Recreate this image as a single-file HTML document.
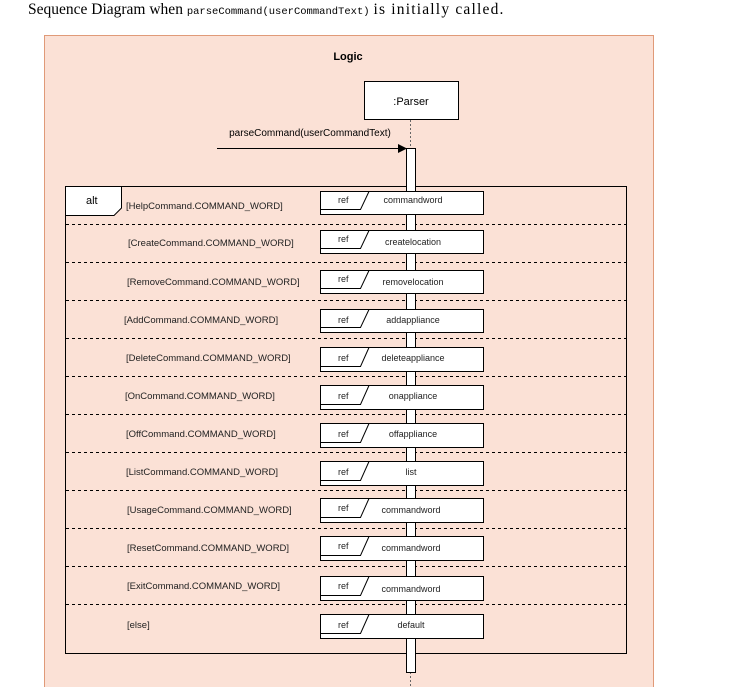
<!DOCTYPE html>
<html><head><meta charset="utf-8"><style>
body{margin:0;background:#fff;width:733px;height:687px;overflow:hidden}
</style></head><body>
<svg width="733" height="687" xmlns="http://www.w3.org/2000/svg" font-family="Liberation Sans, Arial, sans-serif">
<text x="28" y="14" font-family="Liberation Serif, serif" font-size="15.5">Sequence Diagram when <tspan font-family="Liberation Mono, monospace" font-size="10.5">parseCommand(userCommandText)</tspan> <tspan letter-spacing="1.2">is initially called.</tspan></text>
<rect x="44.5" y="35.5" width="609" height="660" fill="#fbe1d6" stroke="#e09a78"/>
<text x="348" y="60" font-size="11" font-weight="bold" text-anchor="middle">Logic</text>
<rect x="364.5" y="81.5" width="94" height="38" fill="#fff" stroke="#000"/>
<text x="411" y="105" font-size="11" text-anchor="middle">:Parser</text>
<line x1="410.5" y1="120" x2="410.5" y2="687" stroke="#666" stroke-dasharray="2,2"/>
<text x="310" y="136" font-size="10" text-anchor="middle">parseCommand(userCommandText)</text>
<line x1="217" y1="148.5" x2="400" y2="148.5" stroke="#000"/>
<polygon points="398,144 407,148.5 398,153" fill="#000"/>
<rect x="65.5" y="186.5" width="561" height="467" fill="none" stroke="#000"/>
<polygon points="65.5,186.5 121.5,186.5 121.5,208 114,215.5 65.5,215.5" fill="#fff" stroke="#000"/>
<text x="86" y="204" font-size="11">alt</text>
<g stroke="#000" stroke-dasharray="3,3" stroke-width="1">
<line x1="66" y1="224.5" x2="626" y2="224.5"/><line x1="66" y1="262.5" x2="626" y2="262.5"/>
<line x1="66" y1="300.5" x2="626" y2="300.5"/><line x1="66" y1="338.5" x2="626" y2="338.5"/>
<line x1="66" y1="376.5" x2="626" y2="376.5"/><line x1="66" y1="414.5" x2="626" y2="414.5"/>
<line x1="66" y1="452.5" x2="626" y2="452.5"/><line x1="66" y1="490.5" x2="626" y2="490.5"/>
<line x1="66" y1="528.5" x2="626" y2="528.5"/><line x1="66" y1="566.5" x2="626" y2="566.5"/>
<line x1="66" y1="604.5" x2="626" y2="604.5"/>
</g>
<rect x="406.5" y="148.5" width="9" height="524" fill="#fff" stroke="#000"/>
<g font-size="9.5" fill="#222">
<text x="126" y="209">[HelpCommand.COMMAND_WORD]</text>
<text x="128" y="246">[CreateCommand.COMMAND_WORD]</text>
<text x="127" y="285">[RemoveCommand.COMMAND_WORD]</text>
<text x="124" y="323">[AddCommand.COMMAND_WORD]</text>
<text x="126" y="361">[DeleteCommand.COMMAND_WORD]</text>
<text x="125" y="399">[OnCommand.COMMAND_WORD]</text>
<text x="126" y="437">[OffCommand.COMMAND_WORD]</text>
<text x="126" y="475">[ListCommand.COMMAND_WORD]</text>
<text x="127" y="513">[UsageCommand.COMMAND_WORD]</text>
<text x="127" y="551">[ResetCommand.COMMAND_WORD]</text>
<text x="127" y="589">[ExitCommand.COMMAND_WORD]</text>
<text x="127" y="628">[else]</text>
</g>
<g id="refs" font-size="9" fill="#222">
<g transform="translate(0,191)"><rect x="320.5" y="0.5" width="163" height="23" fill="#fff" stroke="#000"/><polyline points="320.5,18.5 360.5,18.5 369,0.5" fill="none" stroke="#000"/><text x="338" y="12">ref</text><text x="413" y="12" text-anchor="middle">commandword</text></g>
<g transform="translate(0,230)"><rect x="320.5" y="0.5" width="163" height="23" fill="#fff" stroke="#000"/><polyline points="320.5,18.5 360.5,18.5 369,0.5" fill="none" stroke="#000"/><text x="338" y="12">ref</text><text x="413" y="15" text-anchor="middle">createlocation</text></g>
<g transform="translate(0,270)"><rect x="320.5" y="0.5" width="163" height="23" fill="#fff" stroke="#000"/><polyline points="320.5,18.5 360.5,18.5 369,0.5" fill="none" stroke="#000"/><text x="338" y="12">ref</text><text x="413" y="15" text-anchor="middle">removelocation</text></g>
<g transform="translate(0,309)"><rect x="320.5" y="0.5" width="163" height="23" fill="#fff" stroke="#000"/><polyline points="320.5,18.5 360.5,18.5 369,0.5" fill="none" stroke="#000"/><text x="338" y="14">ref</text><text x="413" y="14" text-anchor="middle">addappliance</text></g>
<g transform="translate(0,347)"><rect x="320.5" y="0.5" width="163" height="24" fill="#fff" stroke="#000"/><polyline points="320.5,19.5 360.5,19.5 369,0.5" fill="none" stroke="#000"/><text x="338" y="14">ref</text><text x="413" y="14" text-anchor="middle">deleteappliance</text></g>
<g transform="translate(0,385)"><rect x="320.5" y="0.5" width="163" height="24" fill="#fff" stroke="#000"/><polyline points="320.5,19.5 360.5,19.5 369,0.5" fill="none" stroke="#000"/><text x="338" y="14">ref</text><text x="413" y="14" text-anchor="middle">onappliance</text></g>
<g transform="translate(0,423)"><rect x="320.5" y="0.5" width="163" height="24" fill="#fff" stroke="#000"/><polyline points="320.5,19.5 360.5,19.5 369,0.5" fill="none" stroke="#000"/><text x="338" y="14">ref</text><text x="413" y="14" text-anchor="middle">offappliance</text></g>
<g transform="translate(0,461)"><rect x="320.5" y="0.5" width="163" height="24" fill="#fff" stroke="#000"/><polyline points="320.5,19.5 360.5,19.5 369,0.5" fill="none" stroke="#000"/><text x="338" y="14">ref</text><text x="411" y="14" text-anchor="middle">list</text></g>
<g transform="translate(0,498)"><rect x="320.5" y="0.5" width="163" height="24" fill="#fff" stroke="#000"/><polyline points="320.5,19.5 360.5,19.5 369,0.5" fill="none" stroke="#000"/><text x="338" y="13">ref</text><text x="411" y="15" text-anchor="middle">commandword</text></g>
<g transform="translate(0,536)"><rect x="320.5" y="0.5" width="163" height="24" fill="#fff" stroke="#000"/><polyline points="320.5,19.5 360.5,19.5 369,0.5" fill="none" stroke="#000"/><text x="338" y="13">ref</text><text x="411" y="15" text-anchor="middle">commandword</text></g>
<g transform="translate(0,576)"><rect x="320.5" y="0.5" width="163" height="24" fill="#fff" stroke="#000"/><polyline points="320.5,19.5 360.5,19.5 369,0.5" fill="none" stroke="#000"/><text x="338" y="13">ref</text><text x="411" y="16" text-anchor="middle">commandword</text></g>
<g transform="translate(0,614)"><rect x="320.5" y="0.5" width="163" height="24" fill="#fff" stroke="#000"/><polyline points="320.5,19.5 360.5,19.5 369,0.5" fill="none" stroke="#000"/><text x="338" y="14">ref</text><text x="411" y="14" text-anchor="middle">default</text></g>
</g>
</svg>
</body></html>
